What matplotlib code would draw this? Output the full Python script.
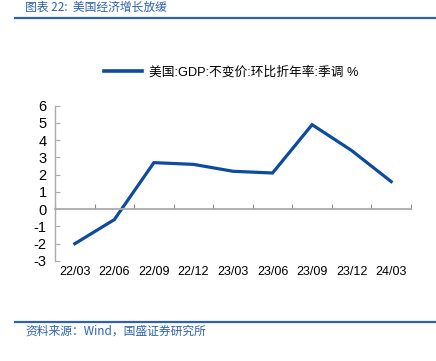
import matplotlib
matplotlib.use("Agg")
import matplotlib.pyplot as plt
from matplotlib.lines import Line2D
import numpy as np

plt.rcParams['font.family'] = ['Liberation Sans', 'Noto Sans CJK SC', 'DejaVu Sans']

quarters = ["22/03", "22/06", "22/09", "22/12", "23/03", "23/06", "23/09", "23/12", "24/03"]
gdp_qoq_saar = [-2.0, -0.6, 2.7, 2.6, 2.2, 2.1, 4.9, 3.4, 1.6]
y_ticks = list(range(-3, 7))

series_name = "美国:GDP:不变价:环比折年率:季调 %"
title = "图表 22:  美国经济增长放缓"
source = "资料来源：Wind，国盛证券研究所"

LINE_BLUE = "#0C4B9E"
RULE_BLUE = "#2E62AC"
AXIS_GRAY = "#ABABAB"

fig = plt.figure(figsize=(4.36, 3.61), dpi=100)
ax = fig.add_axes([55 / 436, 100 / 361, 356 / 436, 155.3 / 361])

x = np.arange(len(quarters))
ax.plot(x, gdp_qoq_saar, color=LINE_BLUE, lw=2.3, solid_joinstyle="miter")

ax.set_xlim(-0.5, len(quarters) - 0.5)
ax.set_ylim(-3, 6)
ax.set_yticks(y_ticks)
ax.set_yticklabels([str(v) for v in y_ticks], fontsize=10.5)

# category axis crosses at zero, labels stay at the bottom
ax.spines["bottom"].set_position(("data", 0))
ax.spines["bottom"].set_color(AXIS_GRAY)
ax.spines["bottom"].set_linewidth(1.3)
ax.spines["left"].set_color(AXIS_GRAY)
ax.spines["left"].set_linewidth(1.0)
for s in ("top", "right"):
    ax.spines[s].set_visible(False)

ax.set_xticks(x)
ax.set_xticklabels(quarters, fontsize=9)
ax.set_xticks(np.arange(len(quarters) + 1) - 0.5, minor=True)
ax.tick_params(axis="x", which="major", length=0, pad=41)
ax.tick_params(axis="x", which="minor", direction="in", length=3.5,
               color="#8A8A8A", width=0.8)
ax.tick_params(axis="y", direction="in", length=3.5, color=AXIS_GRAY,
               width=0.8, pad=6)

handle = Line2D([], [], color=LINE_BLUE, lw=2.6)
fig.legend([handle], [series_name], loc="center", bbox_to_anchor=(0.53, 0.80),
           frameon=False, handlelength=3.0, handletextpad=0.5,
           prop={"family": ["Liberation Sans", "Noto Sans CJK SC"], "size": 9.2})

# header / footer rules and texts
fig.add_artist(Line2D([15 / 436, 1], [1 - 18 / 361] * 2, color=RULE_BLUE, lw=1.6))
fig.add_artist(Line2D([15 / 436, 1], [1 - 322 / 361] * 2, color=RULE_BLUE, lw=1.6))
fig.text(25 / 436, 1 - 0.5 / 361, title, color=RULE_BLUE, fontsize=8.5,
         ha="left", va="top", family=["Noto Sans CJK SC", "DejaVu Sans"],
         style="italic")
fig.text(25 / 436, 1 - 331 / 361, source, color=RULE_BLUE, fontsize=8.5,
         ha="left", va="center", family=["Noto Sans CJK SC", "DejaVu Sans"],
         style="italic")

fig.savefig("out.png", dpi=100)
